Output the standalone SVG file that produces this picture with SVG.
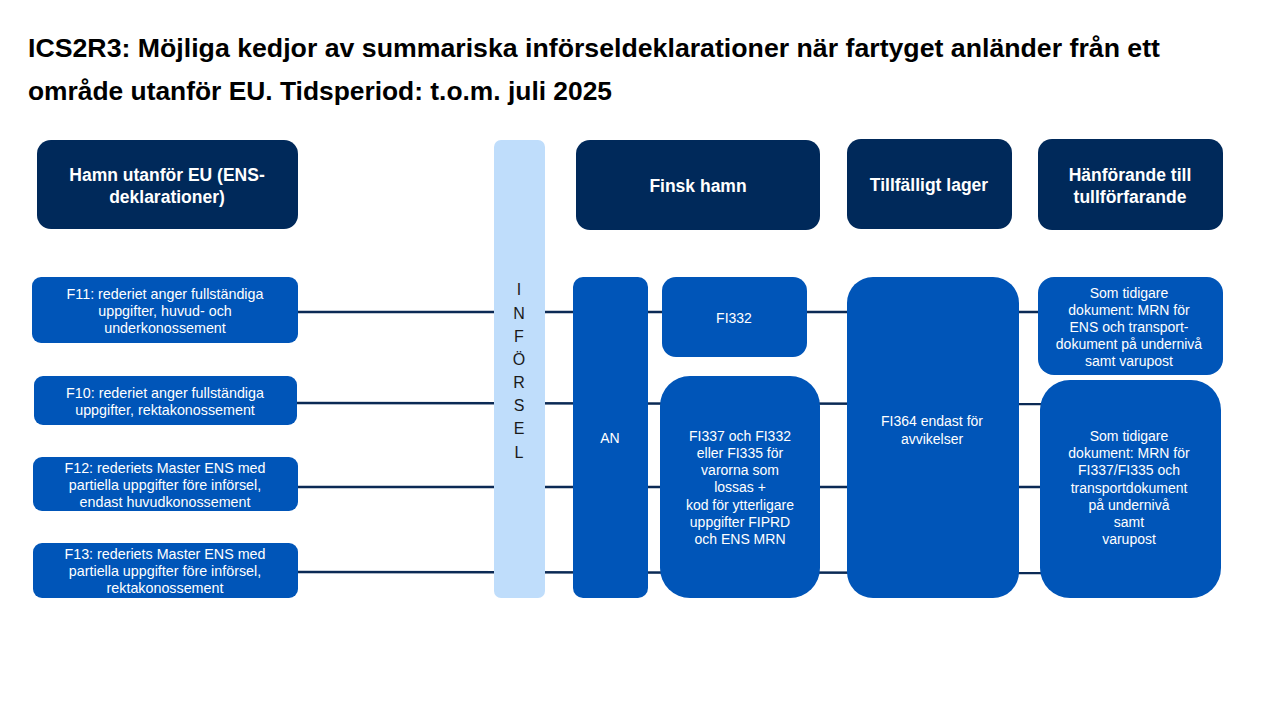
<svg xmlns="http://www.w3.org/2000/svg" width="1280" height="720" viewBox="0 0 1280 720">
<style>
.hdr{fill:#00295A}
.box{fill:#0055B8}
.bar{fill:#BFDDFB}
.ht{font-family:"Liberation Sans",Arial,sans-serif;font-weight:bold;font-size:17.5px;fill:#fff;text-anchor:middle}
.bt{font-family:"Liberation Sans",Arial,sans-serif;font-size:14px;fill:#fff;text-anchor:middle}
.lt{font-size:14.3px}
.it{font-family:"Liberation Sans",Arial,sans-serif;font-size:16px;fill:#1a1a1a;text-anchor:middle}
.title{font-family:"Liberation Sans",Arial,sans-serif;font-weight:bold;font-size:25px;fill:#000}
.conn{stroke:#0B2A55;stroke-width:2.5;fill:none}
</style>
<rect width="1280" height="720" fill="#fff"/>
<text class="title" x="28" y="57" textLength="1132" lengthAdjust="spacingAndGlyphs">ICS2R3: Möjliga kedjor av summariska införseldeklarationer när fartyget anländer från ett</text>
<text class="title" x="28" y="100" textLength="584" lengthAdjust="spacingAndGlyphs">område utanför EU. Tidsperiod: t.o.m. juli 2025</text>

<g id="connectors">
<line class="conn" x1="298" y1="312" x2="1040" y2="312"/>
<line class="conn" x1="297" y1="403" x2="1042" y2="404"/>
<line class="conn" x1="298" y1="487" x2="1042" y2="487"/>
<line class="conn" x1="298" y1="572" x2="1042" y2="573"/>
</g>

<g id="h-hamn"><rect class="hdr" x="37" y="140" width="261" height="89" rx="14"/>
<text class="ht" x="167" y="181">Hamn utanför EU (ENS-</text><text class="ht" x="167" y="203">deklarationer)</text></g>
<g id="h-finsk"><rect class="hdr" x="576" y="140" width="244" height="90" rx="14"/>
<text class="ht" x="698" y="192">Finsk hamn</text></g>
<g id="h-lager"><rect class="hdr" x="847" y="139" width="165" height="90" rx="14"/>
<text class="ht" x="929" y="191">Tillfälligt lager</text></g>
<g id="h-hanf"><rect class="hdr" x="1038" y="139" width="185" height="91" rx="14"/>
<text class="ht" x="1130" y="181">Hänförande till</text><text class="ht" x="1130" y="203">tullförfarande</text></g>

<g id="inforsel"><rect class="bar" x="494" y="140" width="51" height="458" rx="7"/>
<text class="it" x="519" y="295">I</text><text class="it" x="519" y="319">N</text><text class="it" x="519" y="342">F</text><text class="it" x="519" y="365">Ö</text><text class="it" x="519" y="388">R</text><text class="it" x="519" y="411">S</text><text class="it" x="519" y="434">E</text><text class="it" x="519" y="458">L</text></g>

<g id="f11"><rect class="box" x="32" y="277" width="266" height="66" rx="9"/>
<text class="bt lt" x="165" y="299">F11: rederiet anger fullständiga</text><text class="bt lt" x="165" y="316">uppgifter, huvud- och</text><text class="bt lt" x="165" y="333">underkonossement</text></g>
<g id="f10"><rect class="box" x="34" y="376" width="263" height="49" rx="9"/>
<text class="bt lt" x="165" y="398">F10: rederiet anger fullständiga</text><text class="bt lt" x="165" y="415">uppgifter, rektakonossement</text></g>
<g id="f12"><rect class="box" x="33" y="457" width="265" height="54" rx="9"/>
<text class="bt lt" x="165" y="473">F12: rederiets Master ENS  med</text><text class="bt lt" x="165" y="490">partiella uppgifter före införsel,</text><text class="bt lt" x="165" y="507">endast huvudkonossement</text></g>
<g id="f13"><rect class="box" x="33" y="543" width="265" height="55" rx="9"/>
<text class="bt lt" x="165" y="559">F13: rederiets Master ENS  med</text><text class="bt lt" x="165" y="576">partiella uppgifter före införsel,</text><text class="bt lt" x="165" y="593">rektakonossement</text></g>

<g id="an"><rect class="box" x="573" y="277" width="75" height="321" rx="10"/>
<text class="bt" x="610" y="443">AN</text></g>
<g id="fi332"><rect class="box" x="662" y="277" width="145" height="80" rx="14"/>
<text class="bt" x="734" y="323">FI332</text></g>
<g id="fi337"><rect class="box" x="660" y="376" width="160" height="222" rx="30"/>
<text class="bt" x="740" y="441">FI337 och FI332</text><text class="bt" x="740" y="458">eller FI335 för</text><text class="bt" x="740" y="475">varorna som</text><text class="bt" x="740" y="492">lossas +</text><text class="bt" x="740" y="510">kod för ytterligare</text><text class="bt" x="740" y="527">uppgifter FIPRD</text><text class="bt" x="740" y="544">och ENS MRN</text></g>
<g id="fi364"><rect class="box" x="847" y="277" width="172" height="321" rx="26"/>
<text class="bt" x="932" y="426">FI364 endast för</text><text class="bt" x="932" y="444">avvikelser</text></g>
<g id="som1"><rect class="box" x="1038" y="277" width="185" height="98" rx="16"/>
<text class="bt" x="1129" y="298">Som tidigare</text><text class="bt" x="1129" y="315">dokument: MRN  för</text><text class="bt" x="1129" y="332">ENS  och transport-</text><text class="bt" x="1129" y="349">dokument på undernivå</text><text class="bt" x="1129" y="366">samt varupost</text></g>
<g id="som2"><rect class="box" x="1040" y="380" width="181" height="218" rx="30"/>
<text class="bt" x="1129" y="441">Som tidigare</text><text class="bt" x="1129" y="458">dokument: MRN  för</text><text class="bt" x="1129" y="475">FI337/FI335  och</text><text class="bt" x="1129" y="493">transportdokument</text><text class="bt" x="1129" y="510">på undernivå</text><text class="bt" x="1129" y="527">samt</text><text class="bt" x="1129" y="544">varupost</text></g>
</svg>
